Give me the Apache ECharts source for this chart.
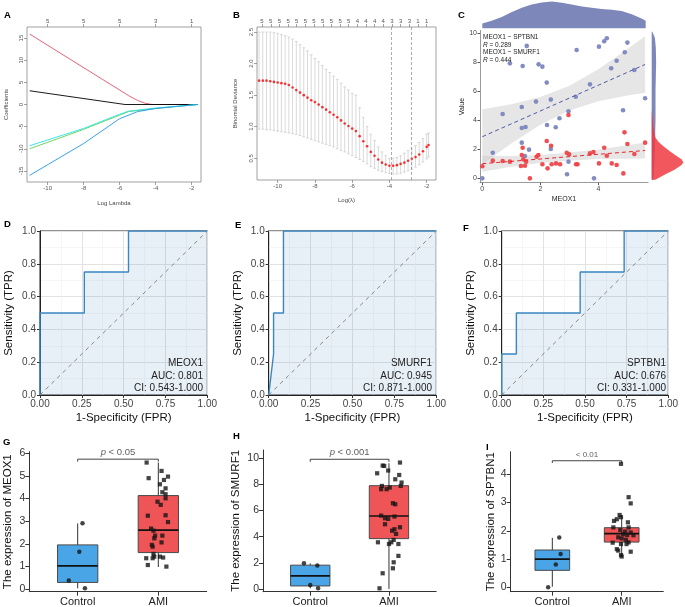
<!DOCTYPE html>
<html><head><meta charset="utf-8">
<script src="https://cdn.jsdelivr.net/npm/echarts@6/dist/echarts.min.js"></script>
<style>html,body{margin:0;padding:0;background:#fff}#c{width:685px;height:607px}</style>
</head><body><div id="c"></div><script>
const ff = 'Arial, "Liberation Sans", sans-serif';

// ---------- Panel A: LASSO coefficient paths ----------
const aLamRed=[-11.0,-5.5,-5.0,-4.6,-4.2,-1.65], aCoefRed=[15.9,2.0,0.9,0.3,0,0];
const aLamBlack=[-11.0,-5.7,-1.65], aCoefBlack=[3.1,0,0];
const aLamGreen=[-11.0,-8.0,-6.0,-5.5,-4.0,-1.65], aCoefGreen=[-10.0,-5.6,-2.4,-1.6,-0.9,0];
const aLamCyan=[-11.0,-8.0,-6.0,-5.5,-4.0,-1.65], aCoefCyan=[-9.3,-5.4,-2.2,-1.5,-0.8,0];
const aLamBlue=[-11.0,-8.0,-6.0,-5.0,-4.0,-3.0,-1.65], aCoefBlue=[-16.0,-8.8,-3.2,-1.6,-0.9,-0.5,0];
const aXTicks=[-10,-8,-6,-4,-2];
const aTopLabels=['5','5','5','3','1'];
const aYTicks=[-15,-10,-5,0,5,10,15];

// ---------- Panel B: cross-validation deviance ----------
const bLam=[-11.0,-10.8,-10.6,-10.4,-10.2,-10.0,-9.8,-9.6,-9.4,-9.2,-9.0,-8.8,-8.6,-8.4,-8.2,-8.0,-7.8,-7.6,-7.4,-7.2,-7.0,-6.8,-6.6,-6.4,-6.2,-6.0,-5.8,-5.6,-5.4,-5.2,-5.0,-4.8,-4.6,-4.4,-4.2,-4.0,-3.8,-3.6,-3.4,-3.2,-3.0,-2.8,-2.6,-2.4,-2.2,-2.0,-1.9];
const bMean=[1.73,1.73,1.73,1.72,1.71,1.70,1.69,1.68,1.66,1.62,1.58,1.54,1.50,1.46,1.42,1.39,1.35,1.31,1.27,1.23,1.19,1.15,1.10,1.05,1.01,0.97,0.93,0.85,0.77,0.69,0.60,0.54,0.48,0.43,0.40,0.38,0.38,0.39,0.41,0.43,0.46,0.49,0.52,0.56,0.61,0.68,0.71];
const bUpper=[2.50,2.50,2.50,2.50,2.49,2.48,2.46,2.44,2.42,2.39,2.35,2.30,2.25,2.20,2.14,2.08,2.03,1.97,1.91,1.86,1.80,1.75,1.69,1.63,1.58,1.53,1.50,1.30,1.15,1.00,0.88,0.78,0.68,0.60,0.54,0.50,0.50,0.51,0.54,0.58,0.62,0.66,0.70,0.75,0.81,0.88,0.90];
const bLower=[0.96,0.96,0.95,0.95,0.94,0.93,0.92,0.91,0.90,0.89,0.88,0.86,0.84,0.82,0.80,0.78,0.76,0.74,0.72,0.70,0.68,0.65,0.62,0.60,0.57,0.54,0.51,0.48,0.45,0.41,0.37,0.34,0.31,0.29,0.27,0.26,0.25,0.25,0.26,0.28,0.30,0.33,0.36,0.40,0.44,0.49,0.52];
const bVLines=[-3.91,-2.82];
const bXTicks=[-10,-8,-6,-4,-2];
const bYTicks=[0.5,1.0,1.5,2.0,2.5];
const bTopPos=[-10.84,-10.37,-9.91,-9.44,-8.98,-8.51,-8.05,-7.58,-7.12,-6.65,-6.19,-5.72,-5.26,-4.79,-4.33,-3.86,-3.40,-2.93,-2.47,-2.00];
const bTopLabels=['5','5','5','5','5','5','5','5','5','5','5','4','4','4','4','3','3','3','1','1'];

// ---------- Panel C: correlation scatter ----------
const cBlueX=[0,0.36,0.70,0.95,1.36,1.36,1.36,1.39,1.47,1.49,1.53,1.61,1.85,1.94,2.07,2.22,2.23,2.36,2.36,2.66,2.53,2.92,2.97,2.97,3.22,3.25,3.71,3.85,4.02,4.20,4.29,4.44,4.63,4.85,4.91,5.00,5.24,5.61];
const cBlueY=[0,1.77,4.44,7.93,2.46,3.47,4.92,7.75,1.54,3.54,9.13,1.98,5.29,7.86,7.70,6.60,3.68,5.43,2.02,4.14,3.52,0.28,4.62,1.15,5.63,8.85,6.48,0,9.08,9.45,9.66,7.59,8.11,4.69,8.69,9.36,7.47,5.52];
const cRedX=[0,0.36,0.70,0.95,1.33,1.36,1.39,1.41,1.47,1.51,1.64,1.87,1.93,2.07,2.22,2.25,2.37,2.39,2.54,2.68,2.91,2.97,2.99,3.23,3.28,3.71,3.83,4.02,4.20,4.29,4.46,4.63,4.86,4.90,5.00,5.24,5.61];
const cRedY=[0.83,1.22,1.20,1.15,0.85,1.61,2.11,1.31,0.87,1.15,0,1.49,1.61,0.97,2.57,0.69,2.25,0.97,1.03,0.97,1.77,4.37,1.66,0.97,0.97,1.72,1.82,1.03,2.11,1.56,1.03,0.92,0.34,3.17,2.37,1.68,2.46];
const cFitX=[0,5.61];
const cFitBlue=[2.87,7.85];
const cFitRed=[1.01,1.92];
const cBandX=[0,1,2,3,4,5,5.61];
const cBandBlueLo=[0.97,2.41,3.70,4.68,5.32,5.71,5.90];
const cBandBlueHi=[4.77,5.11,5.60,6.38,7.52,8.91,9.80];
const cBandRedLo=[0.46,0.80,1.05,1.22,1.33,1.35,1.37];
const cBandRedHi=[1.56,1.54,1.61,1.78,1.99,2.29,2.47];
const cTopDensX=[0,0.32,0.67,1.0,1.36,1.7,2.05,2.4,2.74,3.08,3.43,3.77,4.11,4.46,4.8,5.15,5.49,5.63];
const cTopDensH=[0.18,0.28,0.42,0.60,0.76,0.88,0.96,0.99,0.95,0.88,0.81,0.76,0.72,0.69,0.64,0.52,0.36,0.28];
const cRightRedV=[-0.1,0,0.3,0.6,0.9,1.1,1.3,1.6,1.9,2.2,2.5,2.8,3.2,3.6,4.0,4.4,4.7];
const cRightRedW=[0.12,0.2,0.45,0.72,0.93,1.0,0.95,0.75,0.55,0.38,0.22,0.12,0.08,0.05,0.04,0.02,0];
const cRightBlueV=[-0.1,0,1,2,3,4,5,6,7,8,9,9.7,10.1];
const cRightBlueW=[0.05,0.06,0.08,0.10,0.11,0.12,0.12,0.12,0.13,0.14,0.13,0.10,0.02];
const cXTicks=[0,2,4];
const cYTicks=[0,2,4,6,8,10];

// ---------- Panels D-F: ROC ----------
const rocDFpr=[0,0,0.265,0.265,0.529,0.529,1], rocDTpr=[0,0.5,0.5,0.75,0.75,1,1];
const rocEFpr=[0,0.029,0.029,0.088,0.088,1], rocETpr=[0,0.25,0.5,0.5,1,1];
const rocFFpr=[0,0,0.088,0.088,0.471,0.471,0.735,0.735,1], rocFTpr=[0,0.25,0.25,0.5,0.5,0.75,0.75,1,1];
const rocNames=['MEOX1','SMURF1','SPTBN1'];
const rocAUC=['0.801','0.945','0.676'];
const rocCI=['0.543-1.000','0.871-1.000','0.331-1.000'];

// ---------- Panels G-I: boxplots ----------
const groupNames=['Control','AMI'];
// [lowWhisker, q1, median, q3, highWhisker]
const gCtrlBox=[0.03,0.29,1.02,1.95,2.90], gAmiBox=[0.97,1.61,2.60,4.13,5.59];
const gCtrlX=[1.06,1.02,0.89,1.09], gCtrlY=[2.91,1.65,0.37,0.03];
const gAmiX=[1.855,2.04,1.88,2.07,2.12,2.02,2.09,2.05,2.09,2.09,1.99,2.03,1.87,2.09,2.12,1.91,1.94,1.96,2.05,1.95,2.04,1.92,1.93,1.94,1.95,1.93,2.02,2.06,1.85,1.87,2.10];
const gAmiY=[5.59,5.22,4.90,4.82,4.97,4.63,4.45,4.28,4.19,4.01,3.86,3.72,3.24,3.26,2.96,2.67,2.58,2.36,2.36,2.24,2.06,1.95,1.87,1.55,1.43,1.36,1.43,1.39,1.36,1.06,0.99];
const hCtrlBox=[0.05,0.23,1.00,1.82,1.96], hAmiBox=[0.0,3.85,5.58,7.90,9.62];
const hCtrlX=[0.92,1.09,1.00,1.10], hCtrlY=[1.96,1.79,0.31,0.05];
const hAmiX=[2.14,1.92,1.94,1.99,1.85,2.13,2.08,2.16,1.91,1.90,2.15,1.97,2.01,2.05,2.08,1.90,1.95,1.99,2.07,1.95,2.14,2.07,2.04,2.09,2.06,1.86,2.03,2.12,2.00,2.12,2.06,2.05,1.92,1.88];
const hAmiY=[9.67,9.44,9.41,9.06,8.85,8.72,8.39,8.14,7.88,7.63,7.88,7.63,7.76,6.56,6.48,5.61,5.41,5.36,5.54,4.95,4.72,4.57,4.46,4.21,3.75,3.57,3.57,3.44,3.44,2.53,2.04,1.58,1.20,0.05];
const iCtrlBox=[0.02,0.60,1.00,1.32,1.75], iAmiBox=[1.09,1.60,1.90,2.11,2.56];
const iCtrlX=[1.10,1.12,1.05,0.94], iCtrlY=[1.76,1.18,0.81,0.0];
const iAmiX=[1.99,2.10,2.13,1.97,1.99,1.93,1.89,2.09,1.88,2.10,1.98,2.05,2.13,2.02,2.08,2.17,1.95,2.00,2.06,2.10,1.87,1.99,2.07,1.93,1.95,2.13,1.99,2.00];
const iAmiY=[4.37,3.19,2.97,2.56,2.48,2.41,2.35,2.30,2.12,2.12,2.03,1.97,1.94,1.88,1.85,1.84,1.77,1.73,1.68,1.59,1.58,1.53,1.53,1.35,1.30,1.26,1.14,1.09];
const sigBracketY=[5.74,9.92,4.48];
const sigBracketDrop=[0.11,0.2,0.08];
const sigText=['{i|p} < 0.05','{i|p} < 0.001','< 0.01'];

// ---------- helpers ----------
const zip=(a,b)=>a.map((v,i)=>[v,b[i]]);
function rAxisX(grid,min,max,ticks,pos,fmt){return {type:'value',gridIndex:grid,position:pos,min:min,max:max,
  axisLine:{show:true,onZero:false,lineStyle:{color:'rgba(0,0,0,0)',width:0}},axisTick:{show:true,customValues:ticks,length:3,lineStyle:{color:'#666',width:0.6}},
  axisLabel:{show:true,customValues:ticks,formatter:fmt,fontSize:6,color:'#555',margin:3,fontFamily:ff,hideOverlap:false},
  splitLine:{show:false},minorSplitLine:{show:false}};}
function polySeries(xi,yi,pts,fill,z){return {type:'custom',xAxisIndex:xi,yAxisIndex:yi,z:z,silent:true,data:[[pts[0][0],pts[0][1]]],
  renderItem:function(params,api){if(params.dataIndex!==0)return null;const p=pts.map(q=>api.coord(q));
    return {type:'polygon',shape:{points:p},style:{fill:fill}};}};}
function bandPts(xs,lo,hi){const p=xs.map((x,i)=>[x,hi[i]]);for(let i=xs.length-1;i>=0;i--)p.push([xs[i],lo[i]]);return p;}
function rocAxes(grid){return [
 {type:'value',gridIndex:grid,min:0,max:1,interval:0.25,name:'1-Specificity (FPR)',nameLocation:'middle',nameGap:17,
  nameTextStyle:{fontSize:11.5,color:'#111',fontFamily:ff},
  axisLine:{show:true,onZero:false,lineStyle:{color:'#222',width:1}},axisTick:{show:true,length:3,lineStyle:{color:'#333'}},
  axisLabel:{fontSize:10,color:'#444',margin:4,fontFamily:ff,formatter:v=>v.toFixed(2),hideOverlap:false},
  splitLine:{show:true,lineStyle:{color:'#E2E2E2',width:1}},minorTick:{show:false,splitNumber:2},minorSplitLine:{show:true,lineStyle:{color:'#F0F0F0',width:0.6}}},
 {type:'value',gridIndex:grid,min:0,max:1,interval:0.2,name:'Sensitivity (TPR)',nameLocation:'middle',nameGap:25,
  nameTextStyle:{fontSize:11.5,color:'#111',fontFamily:ff},
  axisLine:{show:true,onZero:false,lineStyle:{color:'#222',width:1}},axisTick:{show:true,length:3,lineStyle:{color:'#333'}},
  axisLabel:{fontSize:10,color:'#444',margin:4,fontFamily:ff,formatter:v=>v.toFixed(1),hideOverlap:false},
  splitLine:{show:true,lineStyle:{color:'#E2E2E2',width:1}},minorTick:{show:false,splitNumber:2},minorSplitLine:{show:true,lineStyle:{color:'#F0F0F0',width:0.6}}}];}
function rocSeries(ax,fpr,tpr){return [
 {type:'line',xAxisIndex:ax,yAxisIndex:ax-2,data:zip(fpr,tpr),showSymbol:false,symbol:'none',z:3,
  lineStyle:{color:'#3A86C1',width:1.4},areaStyle:{color:'rgba(70,130,190,0.13)',opacity:1}},
 {type:'line',xAxisIndex:ax,yAxisIndex:ax-2,data:[[0,0],[1,1]],showSymbol:false,symbol:'none',z:4,
  lineStyle:{color:'#888',width:1,type:[4,4]}}];}
function boxX(grid){return {type:'value',gridIndex:grid,min:0.4,max:2.6,
  axisLine:{show:true,onZero:false,lineStyle:{color:'#333',width:1}},axisTick:{show:true,customValues:[1,2],length:4,lineStyle:{color:'#333'}},
  axisLabel:{customValues:[1,2],formatter:v=>groupNames[Math.round(v)-1],fontSize:11,color:'#222',margin:5,fontFamily:ff,hideOverlap:false},
  splitLine:{show:false}};}
function boxY(grid,min,max,ticks,name,gap){return {type:'value',gridIndex:grid,min:min,max:max,name:name,nameLocation:'middle',nameGap:gap,
  nameTextStyle:{fontSize:11.5,color:'#111',fontFamily:ff},
  axisLine:{show:true,onZero:false,lineStyle:{color:'#333',width:1}},axisTick:{show:true,customValues:ticks,length:4,lineStyle:{color:'#333'}},
  axisLabel:{customValues:ticks,fontSize:10.5,color:'#333',margin:4,fontFamily:ff,hideOverlap:false},splitLine:{show:false}};}
function boxRender(params,api){
  const x=api.value(0),lo=api.value(1),q1=api.value(2),md=api.value(3),q3=api.value(4),hi=api.value(5);const hw=0.25;
  const pLo=api.coord([x,lo]),pHi=api.coord([x,hi]),a=api.coord([x-hw,q3]),b=api.coord([x+hw,q1]),m1=api.coord([x-hw,md]),m2=api.coord([x+hw,md]);
  return {type:'group',children:[
   {type:'line',shape:{x1:pLo[0],y1:pLo[1],x2:pHi[0],y2:pHi[1]},style:{stroke:'#333',lineWidth:1}},
   {type:'rect',shape:{x:a[0],y:a[1],width:b[0]-a[0],height:b[1]-a[1]},style:{fill:api.visual('color'),stroke:'#4a4a4a',lineWidth:1}},
   {type:'line',shape:{x1:m1[0],y1:m1[1],x2:m2[0],y2:m2[1]},style:{stroke:'#111',lineWidth:1.7}}]};}
function boxSeries(ax,ctrl,amiB,cx,cy,ax2,ay2,k){
  const yb=sigBracketY[k],dr=sigBracketDrop[k];
  return [
   {type:'custom',xAxisIndex:ax,yAxisIndex:ax-2,z:2,renderItem:boxRender,
    data:[{value:[1].concat(ctrl),itemStyle:{color:'#4AA5E6'}},{value:[2].concat(amiB),itemStyle:{color:'#EF5456'}}]},
   {type:'scatter',xAxisIndex:ax,yAxisIndex:ax-2,z:3,symbol:'circle',symbolSize:4.5,itemStyle:{color:'#151515'},data:zip(cx,cy)},
   {type:'scatter',xAxisIndex:ax,yAxisIndex:ax-2,z:3,symbol:'rect',symbolSize:4.2,itemStyle:{color:'#151515'},data:zip(ax2,ay2)},
   {type:'line',xAxisIndex:ax,yAxisIndex:ax-2,z:3,symbol:'none',lineStyle:{color:'#444',width:1},
    data:[[1,yb-dr],[1,yb],[2,yb],[2,yb-dr]]},
   {type:'scatter',xAxisIndex:ax,yAxisIndex:ax-2,z:3,symbolSize:0,data:[[1.5,yb]],
    label:{show:true,position:'top',distance:2,formatter:sigText[k],fontSize:k===2?8:9.5,color:'#333',fontFamily:ff,
      rich:{i:{fontStyle:'italic',fontSize:9.5,color:'#333',fontFamily:ff}}}}];}

const grids=[
 {left:27,top:27,width:174,height:155,show:true,borderColor:'#888',borderWidth:0.8},
 {left:257,top:27,width:179,height:153,show:true,borderColor:'#888',borderWidth:0.8},
 {left:480,top:30.4,width:168,height:152.3},
 {left:480,top:0,width:168,height:28.3},
 {left:651.7,top:30.4,width:33.3,height:152.3},
 {left:40,top:231,width:167.3,height:164,show:true,borderColor:'#222',borderWidth:1},
 {left:268.7,top:231,width:167.6,height:164,show:true,borderColor:'#222',borderWidth:1},
 {left:501.7,top:231,width:166.6,height:164,show:true,borderColor:'#222',borderWidth:1},
 {left:29.3,top:451.7,width:177.4,height:140},
 {left:263,top:450,width:173.2,height:141.7},
 {left:510.7,top:451.7,width:152.6,height:140}
].map(g=>Object.assign({outerBoundsMode:'none',containLabel:false},g));

const xAxes=[
 Object.assign(rAxisX(0,-11.15,-1.48,aXTicks,'bottom',v=>String(v)),{name:'Log Lambda',nameLocation:'middle',nameGap:18,nameTextStyle:{fontSize:6,color:'#444',fontFamily:ff}}),
 rAxisX(0,-11.15,-1.48,aXTicks,'top',v=>aTopLabels[aXTicks.indexOf(v)]),
 Object.assign(rAxisX(1,-11.11,-1.5,bXTicks,'bottom',v=>String(v)),{name:'Log(\u03bb)',nameLocation:'middle',nameGap:17,nameTextStyle:{fontSize:6,color:'#444',fontFamily:ff}}),
 rAxisX(1,-11.11,-1.5,bTopPos,'top',v=>bTopLabels[bTopPos.indexOf(v)]),
 {type:'value',gridIndex:2,min:-0.08,max:5.71,name:'MEOX1',nameLocation:'middle',nameGap:13,nameTextStyle:{fontSize:7,color:'#222',fontFamily:ff},
  axisLine:{show:true,onZero:false,lineStyle:{color:'#555',width:0.6}},axisTick:{show:true,customValues:cXTicks,length:2.5,lineStyle:{color:'#555'}},
  axisLabel:{customValues:cXTicks,fontSize:7,color:'#444',margin:3,fontFamily:ff},splitLine:{show:false}},
 {type:'value',gridIndex:3,min:-0.08,max:5.71,show:false},
 {type:'value',gridIndex:4,min:0,max:1.05,show:false},
 rocAxes(5)[0],rocAxes(6)[0],rocAxes(7)[0],
 boxX(8),boxX(9),boxX(10)
];
const yAxes=[
 Object.assign(rAxisX(0,-17.5,17.5,aYTicks,'left',v=>String(v)),{name:'Coefficients',nameLocation:'middle',nameGap:18,nameTextStyle:{fontSize:6,color:'#444',fontFamily:ff}}),
 Object.assign(rAxisX(1,0.155,2.58,bYTicks,'left',v=>v.toFixed(1)),{name:'Binomial Deviance',nameLocation:'middle',nameGap:19,nameTextStyle:{fontSize:6,color:'#444',fontFamily:ff}}),
 {type:'value',gridIndex:2,min:-0.3,max:10.2,name:'Value',nameLocation:'middle',nameGap:14,nameTextStyle:{fontSize:7,color:'#222',fontFamily:ff},
  axisLine:{show:true,onZero:false,lineStyle:{color:'#555',width:0.6}},axisTick:{show:true,customValues:cYTicks,length:2.5,lineStyle:{color:'#555'}},
  axisLabel:{customValues:cYTicks,fontSize:7,color:'#444',margin:3,fontFamily:ff},splitLine:{show:false}},
 {type:'value',gridIndex:3,min:0,max:1.05,show:false},
 {type:'value',gridIndex:4,min:-0.3,max:10.2,show:false},
 rocAxes(5)[1],rocAxes(6)[1],rocAxes(7)[1],
 boxY(8,-0.12,6.07,[0,1,2,3,4,5,6],'The expression of MEOX1',15),
 boxY(9,-0.21,10.63,[0,2,4,6,8,10],'The expression of SMURF1',21),
 boxY(10,-0.156,4.80,[0,1,2,3,4],'The expression of SPTBN1',14)
];
yAxes[0].axisLabel.rotate=90; yAxes[1].axisLabel.rotate=90;

const series=[];
// A
[[aLamRed,aCoefRed,'#DF536B'],[aLamBlack,aCoefBlack,'#000000'],[aLamGreen,aCoefGreen,'#61D04F'],[aLamCyan,aCoefCyan,'#28E2E5'],[aLamBlue,aCoefBlue,'#2297E6']]
 .forEach(s=>series.push({type:'line',xAxisIndex:0,yAxisIndex:0,data:zip(s[0],s[1]),symbol:'none',lineStyle:{color:s[2],width:0.9}}));
// B
series.push({type:'custom',xAxisIndex:2,yAxisIndex:1,z:2,data:bLam.map((l,i)=>[l,bLower[i],bUpper[i]]),
 renderItem:function(params,api){const x=api.value(0);const lo=api.coord([x,api.value(1)]),hi=api.coord([x,api.value(2)]);const c=1.4;
  const st={stroke:'#C9C9C9',lineWidth:0.7};
  return {type:'group',children:[{type:'line',shape:{x1:lo[0],y1:lo[1],x2:hi[0],y2:hi[1]},style:st},
   {type:'line',shape:{x1:lo[0]-c,y1:lo[1],x2:lo[0]+c,y2:lo[1]},style:st},{type:'line',shape:{x1:hi[0]-c,y1:hi[1],x2:hi[0]+c,y2:hi[1]},style:st}]};}});
series.push({type:'scatter',xAxisIndex:2,yAxisIndex:1,z:3,symbolSize:2.6,itemStyle:{color:'#FF0000'},data:zip(bLam,bMean),
 markLine:{silent:true,symbol:'none',label:{show:false},lineStyle:{color:'#8a8a8a',type:[3,2],width:0.7},data:bVLines.map(v=>({xAxis:v}))}});
// C
series.push(polySeries(4,2,bandPts(cBandX,cBandBlueLo,cBandBlueHi),'rgba(200,200,200,0.45)',1));
series.push(polySeries(4,2,bandPts(cBandX,cBandRedLo,cBandRedHi),'rgba(200,200,200,0.45)',1));
series.push({type:'scatter',xAxisIndex:4,yAxisIndex:2,z:3,symbolSize:4.6,itemStyle:{color:'#7C86BE',opacity:0.95},data:zip(cBlueX,cBlueY)});
series.push({type:'scatter',xAxisIndex:4,yAxisIndex:2,z:3,symbolSize:4.6,itemStyle:{color:'#EE4449',opacity:0.95},data:zip(cRedX,cRedY)});
series.push({type:'line',xAxisIndex:4,yAxisIndex:2,z:4,symbol:'none',data:zip(cFitX,cFitBlue),lineStyle:{color:'#4F5AA8',width:1,type:[4,3]}});
series.push({type:'line',xAxisIndex:4,yAxisIndex:2,z:4,symbol:'none',data:zip(cFitX,cFitRed),lineStyle:{color:'#E8262C',width:1,type:[4,3]}});
series.push(polySeries(5,3,[[cTopDensX[0],0]].concat(zip(cTopDensX,cTopDensH),[[cTopDensX[cTopDensX.length-1],0]]),'#7D87BA',1));
series.push(polySeries(6,4,[[0,cRightBlueV[0]]].concat(zip(cRightBlueW,cRightBlueV),[[0,cRightBlueV[cRightBlueV.length-1]]]),'#7D87BA',1));
series.push(polySeries(6,4,[[0,cRightRedV[0]]].concat(zip(cRightRedW,cRightRedV),[[0,cRightRedV[cRightRedV.length-1]]]),'rgba(238,58,64,0.85)',2));
// D-F
series.push(...rocSeries(7,rocDFpr,rocDTpr));
series.push(...rocSeries(8,rocEFpr,rocETpr));
series.push(...rocSeries(9,rocFFpr,rocFTpr));
// G-I
series.push(...boxSeries(10,gCtrlBox,gAmiBox,gCtrlX,gCtrlY,gAmiX,gAmiY,0));
series.push(...boxSeries(11,hCtrlBox,hAmiBox,hCtrlX,hCtrlY,hAmiX,hAmiY,1));
series.push(...boxSeries(12,iCtrlBox,iAmiBox,iCtrlX,iCtrlY,iAmiX,iAmiY,2));

function txt(x,y,t,opt){return Object.assign({type:'text',x:x,y:y,z:100,style:Object.assign({text:t,font:'9px '+ff,fill:'#111'},opt||{})});}
const letters=[['A',4,10],['B',233,10],['C',458,10],['D',4,219],['E',235,220],['F',463,223],['G',3,437],['H',233,431],['I',486,442]];
const graphic=letters.map(l=>txt(l[1],l[2],l[0],{font:'bold 9.5px '+ff,fill:'#000'}));
graphic.push(txt(483,34,'MEOX1 ~ SPTBN1',{font:'6.5px '+ff,fill:'#222'}));
graphic.push({type:'text',x:483,y:41.5,z:100,style:{text:'{i|R} = 0.289',font:'6.5px '+ff,fill:'#222',rich:{i:{fontStyle:'italic',fontSize:6.5,fontFamily:ff,fill:'#222'}}}});
graphic.push(txt(483,49,'MEOX1 ~ SMURF1',{font:'6.5px '+ff,fill:'#222'}));
graphic.push({type:'text',x:483,y:56.5,z:100,style:{text:'{i|R} = 0.444',font:'6.5px '+ff,fill:'#222',rich:{i:{fontStyle:'italic',fontSize:6.5,fontFamily:ff,fill:'#222'}}}});
const rocRight=[203,432,666];
rocRight.forEach((r,i)=>{
 graphic.push(txt(r,358,rocNames[i],{font:'10px '+ff,fill:'#222',align:'right'}));
 graphic.push(txt(r,371,'AUC: '+rocAUC[i],{font:'10px '+ff,fill:'#222',align:'right'}));
 graphic.push(txt(r,383,'CI: '+rocCI[i],{font:'10px '+ff,fill:'#222',align:'right'}));
});

const chart=echarts.init(document.getElementById('c'));
chart.setOption({animation:false,backgroundColor:'#fff',textStyle:{fontFamily:ff},grid:grids,xAxis:xAxes,yAxis:yAxes,series:series,graphic:graphic});
</script></body></html>
